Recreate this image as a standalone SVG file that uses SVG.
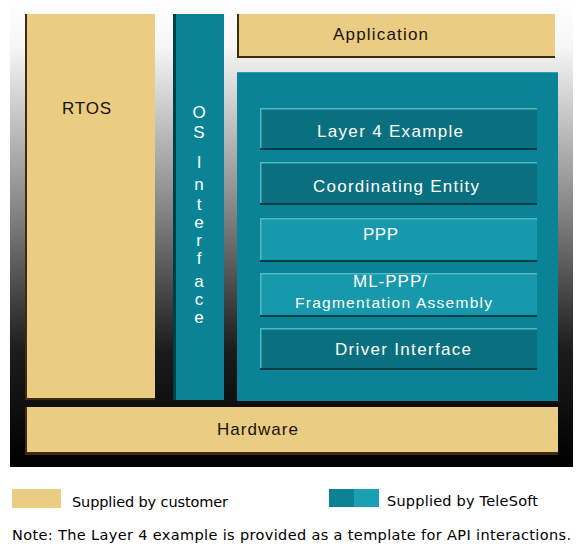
<svg xmlns="http://www.w3.org/2000/svg" width="582" height="545" viewBox="0 0 582 545">
<defs>
<linearGradient id="bg" x1="0" y1="0" x2="0" y2="1" gradientUnits="objectBoundingBox">
<stop offset="0" stop-color="#ffffff"/>
<stop offset="0.1" stop-color="#f6f6f6"/>
<stop offset="0.45" stop-color="#858585"/>
<stop offset="0.75" stop-color="#1c1c1c"/>
<stop offset="1" stop-color="#000000"/>
</linearGradient>
</defs>
<style>
.tan{fill:#eacc83}
.teal{fill:#0b8396}
.dk{fill:#0a6f7e}
.lt{fill:#1699ac}
.shd{fill:#3b2c12}
.tshd{fill:#033d48}
.hl{fill:#4fb8c6}
.bt{font-family:"Liberation Sans",Arial,sans-serif;font-size:17px;fill:#1a1408}
.wt{font-family:"Liberation Sans",Arial,sans-serif;font-size:17px;fill:#ffffff}
.lg{font-family:"DejaVu Sans","Liberation Sans",sans-serif;font-size:14.5px;fill:#000000}
</style>
<rect width="582" height="545" fill="#ffffff"/>
<rect x="10" y="0" width="563" height="467" fill="url(#bg)"/>

<g id="rtos">
<rect class="tan" x="25" y="14" width="130" height="386"/>
<rect class="shd" x="25" y="14" width="2" height="386"/>
<rect class="shd" x="25" y="398" width="130" height="2"/>
<text class="bt" x="62" y="114" textLength="49">RTOS</text>
</g>

<g id="os-interface">
<rect class="teal" x="173" y="14" width="51" height="386"/>
<rect class="tshd" x="173" y="14" width="3" height="386"/>
<g class="wt" text-anchor="middle">
<text x="199" y="118">O</text>
<text x="199" y="138">S</text>
<text x="199" y="168">I</text>
<text x="199" y="190">n</text>
<text x="199" y="210">t</text>
<text x="199" y="228">e</text>
<text x="199" y="246">r</text>
<text x="199" y="264">f</text>
<text x="199" y="287">a</text>
<text x="199" y="305">c</text>
<text x="199" y="323">e</text>
</g>
</g>

<g id="application">
<rect class="tan" x="237" y="14" width="318" height="44"/>
<rect class="shd" x="237" y="14" width="2" height="44"/>
<rect class="shd" x="237" y="56" width="318" height="2"/>
<text class="bt" x="333" y="40" textLength="95">Application</text>
</g>

<g id="stack">
<rect class="teal" x="237" y="72" width="321" height="329"/>
<rect class="hl" x="237" y="72" width="321" height="1" opacity="0.5"/>
</g>

<g id="layer4">
<rect class="dk" x="260" y="108" width="277" height="42"/>
<rect class="hl" x="260" y="108" width="277" height="1.5"/>
<rect class="hl" x="260" y="108" width="1.5" height="42"/>
<rect class="tshd" x="260" y="148" width="277" height="2"/>
<text class="wt" x="317" y="137" textLength="146">Layer 4 Example</text>
</g>

<g id="coordinating">
<rect class="dk" x="260" y="162" width="277" height="43"/>
<rect class="hl" x="260" y="162" width="277" height="1.5"/>
<rect class="hl" x="260" y="162" width="1.5" height="43"/>
<rect class="tshd" x="260" y="203" width="277" height="2"/>
<text class="wt" x="313" y="192" textLength="166">Coordinating Entity</text>
</g>

<g id="ppp">
<rect class="lt" x="260" y="218" width="277" height="44"/>
<rect class="hl" x="260" y="218" width="277" height="1.5"/>
<rect class="hl" x="260" y="218" width="1.5" height="44"/>
<rect class="tshd" x="260" y="260" width="277" height="2"/>
<text class="wt" x="363" y="240" textLength="35">PPP</text>
</g>

<g id="mlppp">
<rect class="lt" x="260" y="273" width="277" height="44"/>
<rect class="hl" x="260" y="273" width="277" height="1.5"/>
<rect class="hl" x="260" y="273" width="1.5" height="44"/>
<rect class="tshd" x="260" y="315" width="277" height="2"/>
<text class="wt" x="353" y="287" textLength="74">ML-PPP/</text>
<text class="wt" x="295" y="308" style="font-size:15.5px" textLength="197">Fragmentation Assembly</text>
</g>

<g id="driver">
<rect class="dk" x="260" y="328" width="277" height="42"/>
<rect class="hl" x="260" y="328" width="277" height="1.5"/>
<rect class="hl" x="260" y="328" width="1.5" height="42"/>
<rect class="tshd" x="260" y="368" width="277" height="2"/>
<text class="wt" x="335" y="355" textLength="136">Driver Interface</text>
</g>

<g id="hardware">
<rect class="tan" x="25" y="407" width="533" height="48"/>
<rect class="shd" x="25" y="407" width="2" height="48"/>
<rect class="shd" x="25" y="452" width="533" height="3"/>
<text class="bt" x="217" y="435" textLength="81">Hardware</text>
</g>

<g id="connectors"></g>

<g id="legend">
<rect class="tan" x="12" y="489" width="49" height="19"/>
<text class="lg" x="72" y="507" textLength="156">Supplied by customer</text>
<rect x="329" y="489" width="25" height="18" fill="#0e8295"/>
<rect x="354" y="489" width="25" height="18" fill="#1aa0b3"/>
<text class="lg" x="387" y="506" textLength="151">Supplied by TeleSoft</text>
<text class="lg" x="12" y="540" textLength="559">Note: The Layer 4 example is provided as a template for API interactions.</text>
</g>
</svg>
